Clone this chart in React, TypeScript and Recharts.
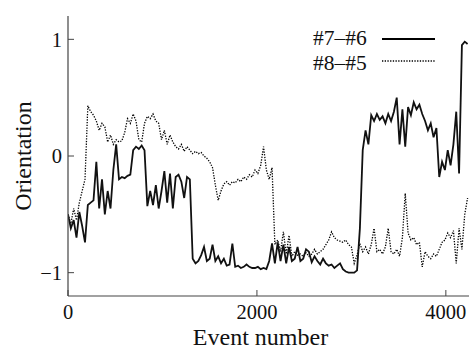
import React from 'react';
import { LineChart, Line, XAxis, YAxis, Legend } from 'recharts';

const events = [
  0, 30, 60, 90, 120, 150, 180, 210, 240, 270,
  300, 330, 360, 390, 420, 450, 480, 510, 540, 570,
  600, 630, 660, 690, 720, 750, 780, 810, 840, 870,
  900, 930, 960, 990, 1020, 1050, 1080, 1110, 1140, 1170,
  1200, 1230, 1260, 1290, 1320, 1350, 1380, 1410, 1440, 1470,
  1500, 1530, 1560, 1590, 1620, 1650, 1680, 1710, 1740, 1770,
  1800, 1830, 1860, 1890, 1920, 1950, 1980, 2010, 2040, 2070,
  2100, 2130, 2160, 2190, 2220, 2250, 2280, 2310, 2340, 2370,
  2400, 2430, 2460, 2490, 2520, 2550, 2580, 2610, 2640, 2670,
  2700, 2730, 2760, 2790, 2820, 2850, 2880, 2910, 2940, 2970,
  3000, 3030, 3060, 3090, 3120, 3150, 3180, 3210, 3240, 3270,
  3300, 3330, 3360, 3390, 3420, 3450, 3480, 3510, 3540, 3570,
  3600, 3630, 3660, 3690, 3720, 3750, 3780, 3810, 3840, 3870,
  3900, 3930, 3960, 3990, 4020, 4050, 4080, 4110, 4140, 4170,
  4200, 4230,
];

// #7–#6 (solid)
const pair76 = [
  -0.50, -0.62, -0.55, -0.70, -0.48, -0.60, -0.74, -0.42, -0.40, -0.38,
  -0.05, -0.45, -0.20, -0.50, -0.30, -0.45, -0.12, 0.10, -0.20, -0.18,
  -0.19, -0.17, -0.16, 0.05, 0.08, 0.06, 0.09, 0.05, -0.43, -0.30,
  -0.42, -0.25, -0.45, -0.30, -0.13, -0.40, -0.15, -0.45, -0.18, -0.16,
  -0.22, -0.36, -0.18, -0.20, -0.88, -0.92, -0.90, -0.85, -0.78, -0.90,
  -0.88, -0.76, -0.90, -0.86, -0.92, -0.88, -0.94, -0.93, -0.75, -0.95,
  -0.94, -0.96, -0.95, -0.93, -0.95, -0.96, -0.96, -0.95, -0.97, -0.96,
  -0.97, -0.90, -0.75, -0.92, -0.74, -0.90, -0.76, -0.92, -0.78, -0.90,
  -0.88, -0.78, -0.90, -0.88, -0.80, -0.82, -0.91, -0.86, -0.90, -0.93,
  -0.88, -0.92, -0.94, -0.93, -0.96, -0.94, -0.92, -0.97, -0.99, -1.00,
  -1.00, -1.00, -0.98, -0.62, 0.05, 0.22, 0.10, 0.35, 0.30, 0.36,
  0.31, 0.34, 0.28, 0.36, 0.30, 0.38, 0.50, 0.10, 0.40, 0.08,
  0.42, 0.35, 0.46, 0.40, 0.44, 0.36, 0.30, 0.22, 0.28, 0.16,
  0.24, -0.18, -0.05, -0.12, 0.05, -0.08, 0.10, 0.38, -0.15, 0.95,
  0.98, 0.96,
];

// #8–#5 (dotted)
const pair85 = [
  -0.50, -0.58, -0.45, -0.55, -0.40, -0.30, -0.20, 0.43, 0.38, 0.35,
  0.30, 0.22, 0.28, 0.25, 0.12, 0.18, 0.10, 0.14, 0.12, 0.13,
  0.20, 0.32, 0.28, 0.36, 0.30, 0.14, 0.12, 0.28, 0.34, 0.32,
  0.36, 0.30, 0.28, 0.14, 0.22, 0.10, 0.18, 0.12, 0.08, 0.06,
  0.10, 0.04, 0.08, 0.05, 0.02, 0.04, 0.02, 0.03, 0.00, -0.02,
  -0.05, -0.10, -0.25, -0.38, -0.30, -0.24, -0.22, -0.25, -0.22, -0.23,
  -0.20, -0.22, -0.18, -0.20, -0.16, -0.18, -0.12, -0.15, -0.08, 0.08,
  -0.12, -0.20, -0.10, -0.76, -0.72, -0.82, -0.65, -0.84, -0.68, -0.86,
  -0.82, -0.85, -0.84, -0.86, -0.83, -0.86, -0.84, -0.80, -0.84, -0.82,
  -0.80, -0.76, -0.72, -0.65, -0.70, -0.72, -0.73, -0.74, -0.72, -0.76,
  -0.78, -0.92, -0.85, -0.75, -0.82, -0.78, -0.84, -0.76, -0.62, -0.82,
  -0.80, -0.84, -0.78, -0.62, -0.82, -0.84, -0.80, -0.86, -0.70, -0.32,
  -0.66, -0.72, -0.70, -0.76, -0.74, -0.95, -0.82, -0.86, -0.88, -0.84,
  -0.86, -0.80, -0.74, -0.72, -0.66, -0.70, -0.64, -0.92, -0.62, -0.80,
  -0.50, -0.36,
];

const seriesNames = ['#7\u2013#6', '#8\u2013#5'];
const xTicks = [0, 2000, 4000];
const yTicks = [-1, 0, 1];
const xDomain = [0, 4245];
const yDomain = [-1.2, 1.2];

const data = events.map((e, i) => ({ event: e, a: pair76[i], b: pair85[i] }));

const FONT = 'Liberation Serif, DejaVu Serif, Times New Roman, serif';
const FRAME = '#444';
const INK = '#111';

const fmtY = (v: number) => (v < 0 ? '\u2212' + Math.abs(v) : String(v));

const tickStyle = { fontFamily: FONT, fontSize: 20.5, fill: INK, style: { fontFamily: FONT } };

function LegendContent(props: any) {
  const payload: any[] = props.payload || [];
  const order = ['a', 'b'];
  const entries = order
    .map((k) => payload.find((p) => p.dataKey === k))
    .filter(Boolean);
  return (
    <svg width={160} height={52} style={{ display: 'block', fontFamily: FONT }}>
      {entries.map((p: any, i: number) => (
        <g key={p.dataKey}>
          <text
            x={8}
            y={21 + i * 24.5}
            style={{ fontFamily: FONT, fontSize: 21.5 }}
            fill={INK}
          >
            {p.value}
          </text>
          <line
            x1={77}
            x2={130}
            y1={15 + i * 22}
            y2={15 + i * 22}
            stroke="#000"
            strokeWidth={i === 0 ? 1.8 : 1.3}
            strokeDasharray={i === 0 ? undefined : '1.3 1.4'}
          />
        </g>
      ))}
    </svg>
  );
}

export default function App() {
  return (
    <div style={{ position: 'absolute', left: 0, top: 0, background: '#fff', fontFamily: FONT }}>
      <LineChart
        width={470}
        height={349}
        data={data}
        margin={{ top: 16, right: 1, bottom: 0, left: 0 }}
        style={{ fontFamily: FONT }}
      >
        <XAxis
          dataKey="event"
          type="number"
          domain={xDomain}
          ticks={xTicks}
          allowDataOverflow
          interval={0}
          height={53}
          tickSize={-6}
          tickMargin={14}
          stroke={FRAME}
          axisLine={{ stroke: FRAME, strokeWidth: 1.2 }}
          tickLine={{ stroke: FRAME }}
          tick={tickStyle}
          label={{
            value: 'Event number',
            position: 'insideBottom',
            offset: 4,
            dx: -8,
            fontFamily: FONT,
            fontSize: 24,
            fill: INK,
            style: { fontFamily: FONT },
          }}
        />
        <XAxis
          xAxisId="top"
          orientation="top"
          type="number"
          domain={xDomain}
          ticks={xTicks}
          allowDataOverflow
          height={0}
          tickSize={-6}
          tick={false}
          stroke={FRAME}
          axisLine={{ stroke: FRAME, strokeWidth: 1.2 }}
          tickLine={{ stroke: FRAME }}
        />
        <YAxis
          type="number"
          domain={yDomain}
          ticks={yTicks}
          allowDataOverflow
          interval={0}
          width={68}
          tickSize={-6}
          tickMargin={12}
          tickFormatter={fmtY}
          stroke={FRAME}
          axisLine={{ stroke: FRAME, strokeWidth: 1.2 }}
          tickLine={{ stroke: FRAME }}
          tick={tickStyle}
          label={{
            value: 'Orientation',
            angle: -90,
            position: 'center',
            dx: -12,
            fontFamily: FONT,
            fontSize: 24,
            fill: INK,
            style: { fontFamily: FONT },
          }}
        />
        <YAxis
          yAxisId="right"
          orientation="right"
          type="number"
          domain={yDomain}
          ticks={yTicks}
          allowDataOverflow
          width={0}
          tickSize={-6}
          tick={false}
          stroke={FRAME}
          axisLine={{ stroke: FRAME, strokeWidth: 1.2 }}
          tickLine={{ stroke: FRAME }}
        />
        <Legend
          layout="vertical"
          align="center"
          verticalAlign="middle"
          wrapperStyle={{ position: 'absolute', left: 305, top: 24, width: 160, height: 52 }}
          content={LegendContent}
        />
        <Line
          dataKey="b"
          name={seriesNames[1]}
          type="linear"
          stroke="#000"
          strokeWidth={1.3}
          strokeDasharray="1.3 1.4"
          dot={false}
          activeDot={false}
          isAnimationActive={false}
        />
        <Line
          dataKey="a"
          name={seriesNames[0]}
          type="linear"
          stroke={INK}
          strokeWidth={1.8}
          dot={false}
          activeDot={false}
          isAnimationActive={false}
        />
      </LineChart>
    </div>
  );
}
